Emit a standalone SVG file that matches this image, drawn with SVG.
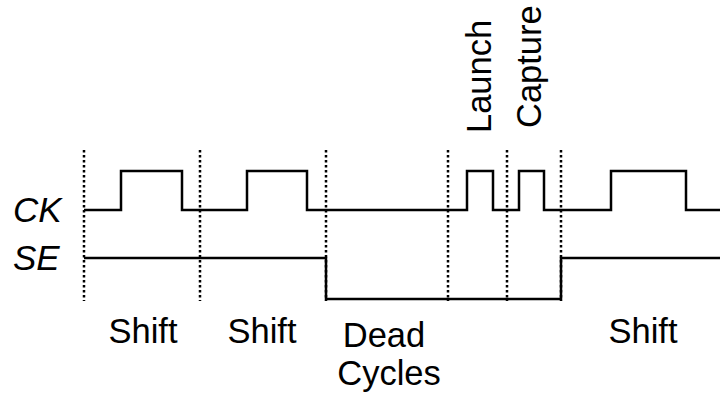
<svg xmlns="http://www.w3.org/2000/svg" width="720" height="399" viewBox="0 0 720 399">
<style>
.bg{fill:#ffffff}
.wave{fill:none;stroke:#000;stroke-width:2.5;stroke-linejoin:miter}
.dot{fill:none;stroke:#000;stroke-width:2.5;stroke-dasharray:2.5 2.5}
.lbl{font-family:"Liberation Sans",Arial,sans-serif;font-size:34.5px;fill:#000}
.sig{font-style:italic;font-size:35px}
</style>
<rect class="bg" x="0" y="0" width="720" height="399"/>
<g id="markers">
<line class="dot" x1="84" y1="150" x2="84" y2="301"/>
<line class="dot" x1="200" y1="150" x2="200" y2="301"/>
<line class="dot" x1="326" y1="150" x2="326" y2="301"/>
<line class="dot" x1="448" y1="150" x2="448" y2="301"/>
<line class="dot" x1="507" y1="150" x2="507" y2="301"/>
<line class="dot" x1="561" y1="150" x2="561" y2="301"/>
</g>
<g id="CK">
<text class="lbl sig" x="13" y="222">CK</text>
<path class="wave" d="M84,210 H121 V171 H182 V210 H247 V171 H307 V210 H467 V171 H493 V210 H519 V171 H544 V210 H611 V171 H686 V210 H720"/>
</g>
<g id="SE">
<text class="lbl sig" x="13" y="270">SE</text>
<path class="wave" d="M84,258 H326 V299 H561 V258 H720"/>
</g>
<g id="labels">
<text class="lbl" x="143" y="343" text-anchor="middle">Shift</text>
<text class="lbl" x="262" y="343" text-anchor="middle">Shift</text>
<text class="lbl" x="384" y="347" text-anchor="middle">Dead</text>
<text class="lbl" x="389" y="385" text-anchor="middle">Cycles</text>
<text class="lbl" x="643" y="343" text-anchor="middle">Shift</text>
<text class="lbl" transform="translate(491,133) rotate(-90)">Launch</text>
<text class="lbl" transform="translate(541,128) rotate(-90)">Capture</text>
</g>
</svg>
